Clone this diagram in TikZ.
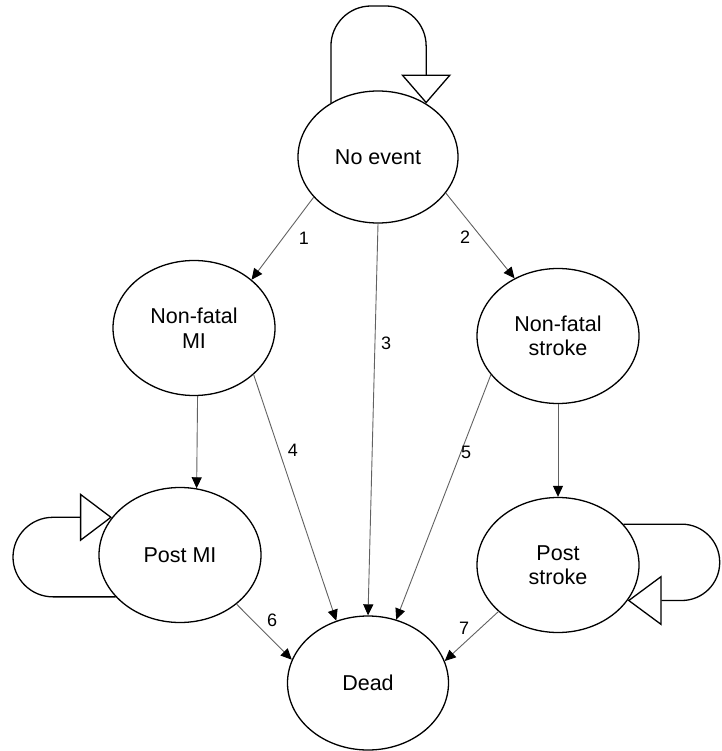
\documentclass[tikz,border=0pt]{standalone}
\usepackage{fontspec}
\setmainfont{Liberation Sans}
\usetikzlibrary{shapes.geometric,arrows.meta,calc}
\begin{document}
\begin{tikzpicture}[x=1pt,y=-1pt,
  state/.style={ellipse,draw=black,line width=1.3pt,minimum width=162pt,minimum height=135pt,inner sep=0pt,align=center,font=\fontsize{21.5}{24.5}\selectfont},
  trans/.style={draw=black!62,line width=0.9pt,-{Triangle[length=11pt,width=10pt,color=black]}},
  num/.style={font=\fontsize{18}{20}\selectfont,inner sep=0pt},
  selfloop/.style={draw=black,line width=1.3pt,rounded corners=40pt}
]
\useasboundingbox (0,0) rectangle (721,751);

\node[state, minimum width=160pt, minimum height=132pt] (noevent) at (378,157) {No event};
\node[state] (nfmi) at (194,328) {Non-fatal\\MI};
\node[state] (nfstroke) at (558,336) {Non-fatal\\stroke};
\node[state] (postmi) at (180,555) {Post MI};
\node[state] (poststroke) at (558,565) {Post\\stroke};
\node[state, minimum width=161pt, minimum height=134pt] (dead) at (368,683) {Dead};

\draw[trans] (noevent.212) -- (nfmi.40);
\draw[trans] (noevent.-28) -- (nfstroke.127);
\draw[trans] (noevent.south) -- (dead.north);
\draw[trans] (nfmi.-38) -- (dead.117);
\draw[trans] (nfstroke.210) -- (dead.66);
\draw[trans] (nfmi.-87) -- (postmi.76);
\draw[trans] (nfstroke.south) -- (poststroke.north);
\draw[trans] (postmi.-41) -- (dead.163);
\draw[trans] (poststroke.218) -- (dead.16);

\node[num] (l1) at (304,238) {1};
\node[num] (l2) at (465,237) {2};
\node[num] (l3) at (386,343) {3};
\node[num] (l4) at (293,450) {4};
\node[num] (l5) at (466,452) {5};
\node[num] (l6) at (272,620) {6};
\node[num] (l7) at (464,628) {7};

\coordinate (looptop) at (379,6);
\draw[selfloop, -{Triangle[length=29pt,width=50pt,fill=white]}]
  (noevent.131) -- (noevent.131 |- looptop) -- (noevent.48 |- looptop) -- (noevent.48);
\draw[selfloop, rounded corners=40pt, -{Triangle[length=32pt,width=48pt,fill=white]}]
  (postmi.213) -| ($(postmi.151)+(-99,0)$) -- (postmi.151);
\draw[selfloop, rounded corners=38pt, -{Triangle[length=34pt,width=50pt,fill=white]}]
  (poststroke.32) -| ($(poststroke.-27)+(92,0)$) -- (poststroke.-27);
\end{tikzpicture}
\end{document}
